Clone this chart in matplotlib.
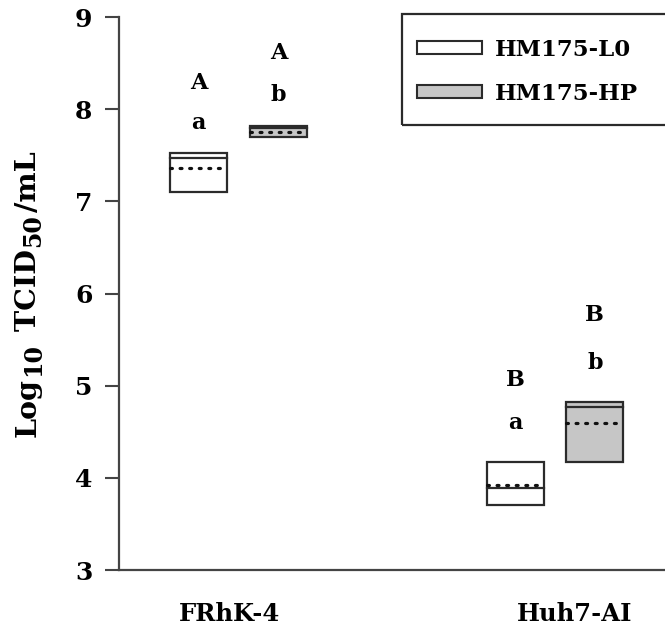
import matplotlib
matplotlib.use("Agg")
import matplotlib.pyplot as plt
from matplotlib.patches import Patch, Rectangle

# ---------------- data ----------------
cells = ["FRhK-4", "Huh7-AI"]
series = ["HM175-L0", "HM175-HP"]
# per series: values for [FRhK-4, Huh7-AI]
l0_low = [7.10, 3.70]
l0_high = [7.52, 4.17]
l0_median = [7.47, 3.89]
l0_mean = [7.36, 3.92]
hp_low = [7.70, 4.17]
hp_high = [7.82, 4.82]
hp_median = [7.80, 4.77]
hp_mean = [7.75, 4.59]
# significance letters
upper_letters_l0 = ["A", "B"]
lower_letters_l0 = ["a", "a"]
upper_letters_hp = ["A", "B"]
lower_letters_hp = ["b", "b"]
upper_y_l0 = [8.28, 5.06]
lower_y_l0 = [7.85, 4.60]
upper_y_hp = [8.61, 5.77]
lower_y_hp = [8.15, 5.25]
yticks = [3, 4, 5, 6, 7, 8, 9]
ylabel_parts = [("Log", False), ("10", True), (" TCID", False), ("50", True), ("/mL", False)]

# ---------------- style ----------------
FONT = "DejaVu Serif"
plt.rcParams["font.family"] = FONT
plt.rcParams["font.weight"] = "bold"

EDGE = "#2b2b2b"
GRAY = "#c6c6c6"
W, H = 665, 635
fig = plt.figure(figsize=(W / 100, H / 100), dpi=100)
ax = fig.add_axes([119 / W, 1 - 570 / H, 1 - 119 / W, (570 - 17) / H])

group_x = [0.0, 1.0]
off = 0.126
bw = 0.18

def draw_box(x, lo, hi, med, mean, face):
    ax.add_patch(Rectangle((x - bw / 2, lo), bw, hi - lo, facecolor=face,
                           edgecolor=EDGE, linewidth=1.6, zorder=2))
    ax.plot([x - bw / 2, x + bw / 2], [med, med], color=EDGE, lw=1.6, zorder=3)
    ax.plot([x - bw / 2, x + bw / 2], [mean, mean], color="#111111", lw=2.3,
            linestyle=(0, (0.6, 2.4)), dash_capstyle="round", zorder=3)

for i, gx in enumerate(group_x):
    draw_box(gx - off, l0_low[i], l0_high[i], l0_median[i], l0_mean[i], "white")
    draw_box(gx + off, hp_low[i], hp_high[i], hp_median[i], hp_mean[i], GRAY)
    for xx, yy, tt in [(gx - off, upper_y_l0[i], upper_letters_l0[i]),
                       (gx - off, lower_y_l0[i], lower_letters_l0[i]),
                       (gx + off, upper_y_hp[i], upper_letters_hp[i]),
                       (gx + off, lower_y_hp[i], lower_letters_hp[i])]:
        ax.text(xx, yy, tt, ha="center", va="center", fontsize=16, fontweight="bold")

ax.set_xlim(-0.3776, 1.3476)
ax.set_ylim(3, 9)
ax.set_yticks(yticks)
ax.set_yticklabels([str(t) for t in yticks], fontsize=18, fontweight="bold")
ax.set_xticks([-0.03, 1.063])
ax.set_xticklabels(cells, fontsize=17.5, fontweight="bold")
ax.tick_params(axis="x", length=0, pad=23)
ax.tick_params(axis="y", length=10, width=1.5, color="#444444", pad=9, direction="out")
for s in ["top", "right"]:
    ax.spines[s].set_visible(False)
for s in ["left", "bottom"]:
    ax.spines[s].set_color("#444444")
    ax.spines[s].set_linewidth(1.6)

# y-axis label built from pieces (near full-size subscripts)
main_size, sub_size = 20.5, 17
base_x = 36.0 / W
sub_shift = 4.0 / W
gap = 2.0
texts = []
for s, is_sub in ylabel_parts:
    t = fig.text(base_x + (sub_shift if is_sub else 0), 0.5, s, rotation=90,
                 rotation_mode="anchor", ha="left", va="baseline",
                 fontsize=sub_size if is_sub else main_size, fontweight="bold")
    texts.append(t)
fig.canvas.draw()
r = fig.canvas.get_renderer()
lengths = [t.get_window_extent(r).height + gap for t in texts]
total = sum(lengths)
center_px = 635 - 293.5
cur = center_px - total / 2
for t, L in zip(texts, lengths):
    x0 = t.get_position()[0]
    t.set_position((x0, cur / H))
    cur += L

# legend
handles = [Patch(facecolor="white", edgecolor=EDGE, linewidth=1.5, label=series[0]),
           Patch(facecolor=GRAY, edgecolor=EDGE, linewidth=1.5, label=series[1])]
leg = fig.legend(handles=handles, loc="upper left",
                 bbox_to_anchor=(417 / W, 1 - 39 / H), bbox_transform=fig.transFigure,
                 frameon=False, prop={"family": FONT, "weight": "bold", "size": 16.5},
                 handlelength=2.84, handleheight=0.48, handletextpad=0.57,
                 labelspacing=0.95, borderpad=0, borderaxespad=0)
fig.add_artist(Rectangle((402 / W, 1 - 125 / H), (W + 10 - 402) / W, (125 - 14) / H,
                         transform=fig.transFigure, facecolor="none", edgecolor=EDGE,
                         linewidth=1.6, zorder=10, clip_on=False))

fig.savefig("out.png", dpi=100)
